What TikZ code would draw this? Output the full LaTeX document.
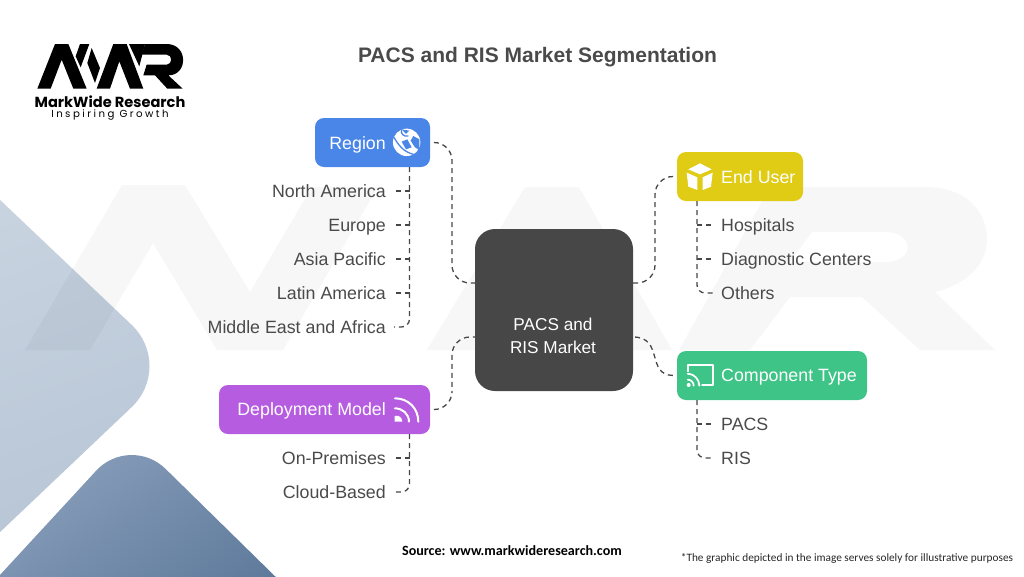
\documentclass[tikz,border=0pt]{standalone}
\usepackage{fontspec}
\setmainfont{Liberation Sans}
\newfontfamily\logofont{Poppins}
\newfontfamily\notefont{Carlito}
\definecolor{inkgrey}{HTML}{4A4A4A}
\definecolor{hubgrey}{HTML}{474747}
\definecolor{regionblue}{HTML}{4A86E8}
\definecolor{useryellow}{HTML}{E0CB15}
\definecolor{compgreen}{HTML}{3EC487}
\definecolor{deploypurple}{HTML}{B65CE0}
\definecolor{palelight}{HTML}{CCD6E2}
\definecolor{paledark}{HTML}{B4C3D4}
\definecolor{steellight}{HTML}{8EA3BF}
\definecolor{steeldark}{HTML}{587496}
\begin{document}
\begin{tikzpicture}[x=1pt, y=-1pt,
  segbox/.style={rounded corners=9pt, inner sep=0pt},
  boxtext/.style={text=white, font=\fontsize{17.8}{22}\selectfont, inner sep=0pt, text height=12pt, text depth=0pt},
  leaf/.style={text=inkgrey, font=\fontsize{17.8}{22}\selectfont, inner sep=0pt, text height=12pt, text depth=0pt},
  link/.style={draw=hubgrey, line width=1.3pt, dash pattern=on 5pt off 4pt},
  curved/.style={link, rounded corners=18pt},
  marktone/.style={black, opacity=0.03},
  icon/.style={draw=white, line width=1.7pt, line cap=round}]
\useasboundingbox (0,0) rectangle (1024,576);

% Corner shapes
\begin{scope}
\clip (0,0) rectangle (1024,576);
\shade[left color=palelight, right color=paledark, shading angle=20, rounded corners=60pt] (-100,105) -- (175,366) -- (-100,627) -- cycle;
\shade[left color=steellight, right color=steeldark, shading angle=35, rounded corners=50pt] (-60,640) -- (130,434) -- (340,640) -- cycle;
\end{scope}

% Watermark
\fill[marktone] (25,350) -- (122,185) -- (185,185) -- (250,292) -- (312,187) -- (378,187) -- (283,350) -- (217,350) -- (153,243) -- (90,350) -- cycle;
\fill[marktone] (427,350) -- (525,187) -- (579,187) -- (672,350) -- (600,350) -- (552,265) -- (500,350) -- cycle;
\fill[marktone, even odd rule] (679,350) -- (770,187) -- (925,187) .. controls (965,187) and (987,210) .. (987,240) .. controls (987,265) and (965,285) .. (935,292) -- (995,350) -- (920,350) -- (862,297) -- (790,297) -- (750,350) -- cycle (812,232) -- (790,262) -- (885,262) .. controls (915,262) and (915,232) .. (885,232) -- cycle;

% Logo
\begin{scope}[shift={(30,38)}, x=0.3333pt, y=-0.3333pt]
\fill[black] (22,152) -- (75,18) -- (115,18) -- (170,152) -- (130,152) -- (95,65) -- (62,152) -- cycle;
\fill[black] (150,18) -- (178,18) -- (152,88) -- (137,55) -- cycle;
\fill[black] (185,30) -- (210,90) -- (195,135) -- (172,75) -- cycle;
\fill[black] (200,152) -- (250,18) -- (290,18) -- (340,152) -- (300,152) -- (268,70) -- (240,152) -- cycle;
\fill[black] (297,18) -- (345,18) -- (328,85) -- cycle;
\fill[black] (345,18) -- (410,18) .. controls (475,18) and (475,112) .. (415,112) -- (458,152) -- (412,152) -- (375,112) -- (340,112) -- (350,80) -- (410,80) .. controls (428,80) and (428,50) .. (410,50) -- (335,50) -- cycle;
\end{scope}
\node[font=\logofont\bfseries\fontsize{14.6}{15}\selectfont, inner sep=0pt] (brand) at (110,101.5) {MarkWide Research};
\node[font=\logofont\fontsize{10.2}{12}\selectfont, inner sep=0pt] (slogan) at (110,115) {\addfontfeatures{LetterSpace=24}Inspiring Growth};

% Title
\node[text=inkgrey, font=\bfseries\fontsize{21}{25}\selectfont, inner sep=0pt] (title) at (537.5,57) {PACS and RIS Market Segmentation};

% Hub
\node[fill=hubgrey, rounded corners=20pt, minimum width=158pt, minimum height=162pt, inner sep=0pt] (hub) at (554,310) {};
\node[align=center, text=white, font=\fontsize{17.2}{23}\selectfont, inner sep=0pt] (hublab) at (553,336) {PACS and\\RIS Market};
\coordinate (hubwa) at (475,283);
\coordinate (hubwb) at (475,337);
\coordinate (hubea) at (633,283);
\coordinate (hubeb) at (633,337);

% Segment boxes
\node[segbox, fill=regionblue, minimum width=115pt, minimum height=49pt] (region) at (372.5,142.5) {};
\node[boxtext, anchor=east] (regionlab) at (386,143) {Region};
\node[segbox, fill=deploypurple, minimum width=211pt, minimum height=49pt] (deploy) at (324.5,409.5) {};
\node[boxtext, anchor=east] (deploylab) at (386,409) {Deployment Model};
\node[segbox, fill=useryellow, minimum width=126pt, minimum height=49pt] (enduser) at (740,176.5) {};
\node[boxtext, anchor=west] (enduserlab) at (721,177) {End User};
\node[segbox, fill=compgreen, minimum width=190pt, minimum height=49pt] (comptype) at (772,375.5) {};
\node[boxtext, anchor=west] (comptypelab) at (721,375) {Component Type};

% Icons
\begin{scope}[shift={(200,110)}, x=0.3333pt, y=-0.3333pt]
\fill[white] (620,97) circle (13.7pt);
\draw[regionblue, line width=1.3pt] (582,82) .. controls (595,105) and (610,125) .. (640,133);
\draw[regionblue, line width=1.3pt] (605,58) .. controls (600,70) and (612,82) .. (625,78);
\fill[regionblue] (640,78) -- (658,88) -- (658,120) -- (645,112) -- (632,92) -- cycle;
\fill[regionblue] (605,95) -- (622,88) -- (635,112) -- (618,118) -- cycle;
\fill[regionblue] (605,58) -- (628,62) -- (618,72) -- cycle;
\end{scope}
\begin{scope}[shift={(200,320)}, x=0.3333pt, y=-0.3333pt]
\draw[icon, line width=2pt] (585,235) .. controls (625,235) and (655,265) .. (655,305);
\draw[icon, line width=2pt] (585,265) .. controls (608,265) and (627,282) .. (627,305);
\fill[white] (584,288) -- (596,288) .. controls (603,290) and (606,296) .. (607,305) -- (584,305) -- cycle;
\end{scope}
\begin{scope}[shift={(620,140)}, x=0.3333pt, y=-0.3333pt]
\fill[white] (240,70) -- (275,88) -- (240,103) -- (205,88) -- cycle;
\fill[white] (200,98) -- (232,112) -- (232,150) -- (205,140) -- cycle;
\fill[white] (278,98) -- (248,112) -- (248,150) -- (273,140) -- cycle;
\end{scope}
\begin{scope}[shift={(620,330)}, x=0.3333pt, y=-0.3333pt]
\draw[icon, line join=round] (204,124) -- (204,105) -- (278,105) -- (278,165) -- (246,165);
\draw[icon] (203,131) .. controls (222,131) and (238,148) .. (238,167);
\draw[icon] (203,149) .. controls (213,149) and (221,157) .. (221,167);
\fill[white] (206,165) circle (2pt);
\end{scope}

% Leaves
\foreach \name/\ypos/\lab in {na/191/North America, eu/225/Europe, ap/259/Asia Pacific, la/293/Latin America, me/327/Middle East and Africa, op/458/On-Premises, cb/492/Cloud-Based}
  \node[leaf, anchor=east] (\name) at (386,\ypos) {\lab};
\foreach \name/\ypos/\lab in {ho/225/Hospitals, dc/259/Diagnostic Centers, ot/293/Others, pa/424/PACS, ri/458/RIS}
  \node[leaf, anchor=west] (\name) at (721,\ypos) {\lab};

% Trunk points
\coordinate (regiontrunk) at (409.5,167);
\coordinate (deploytrunk) at (409.5,434);
\coordinate (usertrunk) at (697,201);
\coordinate (comptrunk) at (697,400);

% Box to hub
\coordinate (lanea) at (452,210);
\coordinate (laneb) at (452,375);
\coordinate (lanec) at (655,230);
\draw[curved, shorten <=4pt] (region.east) -| (lanea) |- (hubwa);
\draw[curved, shorten <=4pt] (deploy.east) -| (laneb) |- (hubwb);
\draw[curved, shorten <=4pt] (enduser.west) -| (lanec) |- (hubea);
\draw[link, shorten <=4pt] (comptype.west) .. controls (646,375) and (664,337) .. (hubeb);

% Trunks and branches
\foreach \leafname in {na,eu,ap,la}
  \draw[link, shorten >=8pt] (regiontrunk |- \leafname.east) -- (\leafname.east);
\draw[link, rounded corners=8pt, shorten >=8pt] (regiontrunk) |- (me.east);
\draw[link, shorten >=8pt] (deploytrunk |- op.east) -- (op.east);
\draw[link, rounded corners=8pt, shorten >=8pt] (deploytrunk) |- (cb.east);
\foreach \leafname in {ho,dc}
  \draw[link, shorten >=8pt] (usertrunk |- \leafname.west) -- (\leafname.west);
\draw[link, rounded corners=8pt, shorten >=8pt] (usertrunk) |- (ot.west);
\draw[link, shorten >=8pt] (comptrunk |- pa.west) -- (pa.west);
\draw[link, rounded corners=8pt, shorten >=8pt] (comptrunk) |- (ri.west);

% Footer
\node[font=\notefont\bfseries\fontsize{14.1}{17}\selectfont, inner sep=0pt] (source) at (512,551) {Source: www.markwideresearch.com};
\node[font=\notefont\fontsize{11.3}{14}\selectfont, text=black!85, inner sep=0pt] (disclaimer) at (847,558) {*The graphic depicted in the image serves solely for illustrative purposes};

\end{tikzpicture}
\end{document}
